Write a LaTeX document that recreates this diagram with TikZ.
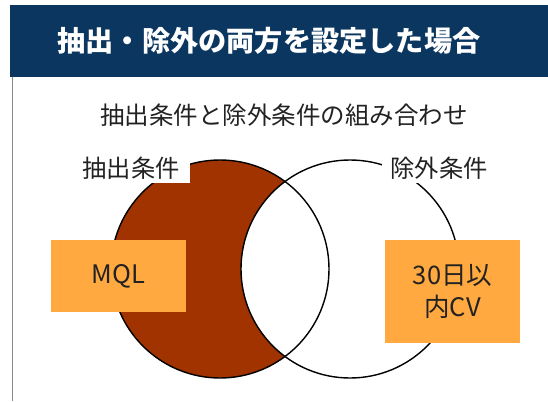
\documentclass[tikz,border=0pt]{standalone}
\usepackage{fontspec}
\setmainfont{Noto Sans CJK JP}
\definecolor{navy}{HTML}{0B365F}
\definecolor{rust}{HTML}{A03300}
\definecolor{boxorange}{HTML}{FFA940}
\definecolor{edgegray}{HTML}{8A8A8A}
\definecolor{inktext}{HTML}{222222}
\tikzset{
  venn/.style={draw=black, line width=1.4pt},
  setlabel/.style={fill=white, inner sep=0pt, minimum height=30pt, text=inktext, font=\fontsize{24.3}{28}\selectfont},
  tagbox/.style={fill=boxorange, inner sep=0pt, align=center, text=inktext, font=\fontsize{25.5}{32}\selectfont}
}
\begin{document}
\begin{tikzpicture}[x=1pt,y=-1pt]
\useasboundingbox (0,0) rectangle (548,401);
% title bar
\fill[navy] (10,5) rectangle (548,77);
\node[text=white, font=\bfseries\fontsize{28.2}{32}\selectfont] (title) at (269,41) {抽出・除外の両方を設定した場合};
% left gray edge
\draw[edgegray, line width=1pt] (12,77) -- (12,401);
% subtitle
\node[text=inktext, font=\fontsize{24.5}{28}\selectfont] (subtitle) at (284,115) {抽出条件と除外条件の組み合わせ};
% venn
\coordinate (cl) at (220,269);
\coordinate (cr) at (350,269);
\fill[rust] (cl) circle[radius=109];
\fill[white] (cr) circle[radius=109];
\draw[venn] (cl) circle[radius=109];
\draw[venn] (cr) circle[radius=109];
% set labels
\node[setlabel, minimum width=118pt] (lab1) at (131,168) {抽出条件};
\node[setlabel, minimum width=114pt] (lab2) at (439,168) {除外条件};
% tag boxes
\node[tagbox, minimum width=135pt, minimum height=72pt] (mql) at (118.5,276) {MQL};
\node[tagbox, minimum width=135pt, minimum height=103pt] (cv) at (452.5,291.5) {30日以\\内CV};
\end{tikzpicture}
\end{document}
